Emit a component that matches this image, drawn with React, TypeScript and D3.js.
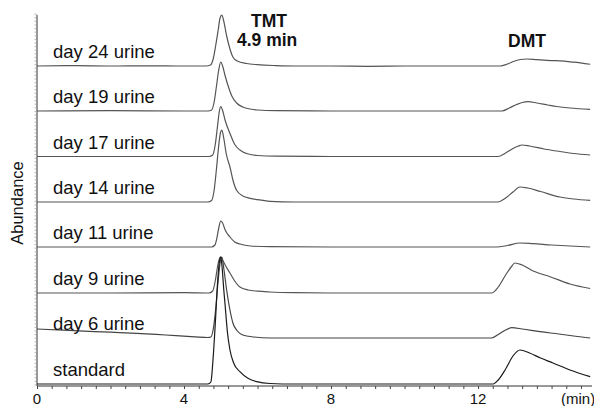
import { useEffect, useRef } from 'react';
import * as d3 from 'd3';

// chromatogram traces, top to bottom
const traceNames = ['day 24 urine', 'day 19 urine', 'day 17 urine', 'day 14 urine', 'day 11 urine', 'day 9 urine', 'day 6 urine', 'standard'];
const baselineOffsets = [319, 274, 228.5, 183, 138, 92, 47, 1];

// [time (min), abundance above baseline]
const day24Points = [[0,0],[1,0.3],[2,0],[3,0.2],[4,0],[4.6,0],[4.72,1],[4.8,8],[4.86,20],[4.93,36],[4.98,48],[5.03,51],[5.08,45],[5.16,30],[5.25,17],[5.33,9],[5.45,5],[5.7,2.5],[6.0,1.3],[6.5,0.4],[7,0],[8,0],[9,-0.3],[10,0],[11,0],[12,0],[12.6,0],[12.8,2],[13.0,5],[13.15,6.5],[13.33,7],[13.6,6.3],[14.0,5.4],[14.23,5.2],[14.6,3.8],[15.05,1.7]];
const day19Points = [[0,0],[2,0.3],[4,0],[4.65,0],[4.75,1],[4.82,9],[4.88,24],[4.94,40],[5.0,49],[5.05,45],[5.12,35],[5.21,24],[5.3,15],[5.43,8],[5.6,4],[5.8,2],[6.0,1],[6.5,0.3],[8,0],[10,0],[12,0],[12.65,0],[12.85,3],[13.05,6.5],[13.2,8.5],[13.37,9.3],[13.6,8],[13.9,6],[14.14,4.5],[14.5,3],[15.05,1.7]];
const day17Points = [[0,0],[2,0],[4,0],[4.68,0],[4.78,1.5],[4.85,12],[4.91,30],[4.96,45],[5.0,50],[5.05,46],[5.12,36],[5.25,23],[5.38,12],[5.52,6.5],[5.75,2.5],[6.0,1],[6.5,0.3],[8,0],[10,0],[12,0],[12.54,0],[12.75,3.5],[12.95,8],[13.1,10.5],[13.19,11.5],[13.4,10.5],[13.8,7.5],[14.23,5],[14.6,3],[15.05,1.5]];
const day14Points = [[0,0],[2,0],[4,0],[4.65,0],[4.75,1.5],[4.82,12],[4.88,32],[4.94,55],[4.99,69],[5.03,72],[5.08,64],[5.15,48],[5.25,35],[5.33,22],[5.43,11.7],[5.6,6],[5.8,3.7],[6.0,2.3],[6.34,0.7],[7,0],[8,0],[10,0],[12,0],[12.54,0],[12.75,4],[12.95,10],[13.14,15],[13.35,14],[13.7,10.5],[14.23,5],[14.6,3],[15.05,1.7]];
const day11Points = [[0,0],[2,0],[4,0],[4.75,0],[4.84,2],[4.9,10],[4.95,20],[5.0,26],[5.05,24],[5.12,17],[5.25,10],[5.38,5],[5.52,3],[5.8,1],[6.34,0.3],[8,0],[10,0],[12,0],[12.5,0],[12.8,1.5],[13.14,4],[13.5,3.3],[14.0,2],[14.5,1],[15.05,0]];
const day9Points = [[0,0],[2,0],[4,0.3],[4.68,0],[4.78,2],[4.85,12],[4.92,28],[4.97,35],[5.0,36],[5.05,33],[5.15,26],[5.25,20],[5.38,12],[5.52,6],[5.75,3],[6.0,1.8],[6.34,1],[7,0.3],[8,0],[10,0],[12,0],[12.37,0],[12.55,6],[12.75,18],[12.9,26],[13.0,30],[13.2,28],[13.5,22],[13.96,16.3],[14.5,9],[15.05,4.5]];
const day6Points = [[0,9],[1,7.3],[2,5.8],[2.71,4.7],[3.5,3],[4.3,1.2],[4.65,0.5],[4.73,1],[4.8,10],[4.87,32],[4.93,58],[4.99,77],[5.03,81],[5.08,70],[5.16,48],[5.25,28],[5.33,15],[5.45,7],[5.6,3],[5.9,1],[6.34,0],[8,0],[10,0],[12,0],[12.37,0],[12.55,3.5],[12.75,8],[12.92,10.3],[13.2,9],[13.69,6.3],[14.2,4],[14.6,2],[15.05,0]];
const standardPoints = [[0,0],[2,0],[4,0],[4.65,0],[4.73,2],[4.79,25],[4.85,60],[4.91,100],[4.96,122],[5.0,127],[5.04,115],[5.08,95],[5.12,78],[5.18,52],[5.25,34],[5.35,21],[5.52,12.3],[5.75,5.5],[5.98,2.3],[6.34,0.5],[7,0],[8,0],[10,0],[12,0],[12.41,0],[12.55,4],[12.75,15],[12.95,28],[13.14,34],[13.4,31],[13.7,26],[14.04,21],[14.5,14],[15.05,7.3]];

const tracePoints = [day24Points, day19Points, day17Points, day14Points, day11Points, day9Points, day6Points, standardPoints];
const traceColors = ['#555', '#555', '#555', '#555', '#555', '#555', '#444', '#1a1a1a'];

const xTickLabels = [0, 4, 8, 12];

export default function App() {
  const svgRef = useRef(null);

  useEffect(() => {
    const width = 594;
    const height = 406;
    const svg = d3.select(svgRef.current);
    svg.selectAll('*').remove();
    svg.attr('width', width).attr('height', height);

    const x = d3.scaleLinear().domain([0, 15.1]).range([37, 592]);
    const y = d3.scaleLinear().domain([0, 370]).range([385, 15]);

    // y axis with dense minor ticks
    svg.append('line')
      .attr('x1', 37).attr('x2', 37).attr('y1', 15).attr('y2', 386)
      .attr('stroke', '#333').attr('stroke-width', 1);
    svg.append('g')
      .selectAll('line')
      .data(d3.range(0, 371, 3.6))
      .enter()
      .append('line')
      .attr('x1', 34.5).attr('x2', 37)
      .attr('y1', d => y(d)).attr('y2', d => y(d))
      .attr('stroke', '#999').attr('stroke-width', 0.7);

    // x axis
    const xAxis = d3.axisBottom(x)
      .tickValues(d3.range(0, 15.1, 0.4))
      .tickSize(3)
      .tickFormat(() => '');
    const gx = svg.append('g').attr('transform', 'translate(0,386)').call(xAxis);
    gx.select('.domain').attr('stroke', '#333').attr('d', `M37,0H592`);
    gx.selectAll('.tick line').attr('stroke', '#444');

    svg.append('g')
      .selectAll('text')
      .data(xTickLabels)
      .enter()
      .append('text')
      .attr('x', d => x(d))
      .attr('y', 404)
      .attr('text-anchor', 'middle')
      .attr('font-size', '15px')
      .attr('fill', '#111')
      .text(d => d);

    svg.append('text')
      .attr('x', 561).attr('y', 404)
      .attr('font-size', '15px')
      .attr('fill', '#111')
      .text('(min)');

    svg.append('text')
      .attr('transform', 'translate(23,203) rotate(-90)')
      .attr('text-anchor', 'middle')
      .attr('font-size', '16.5px')
      .attr('fill', '#111')
      .text('Abundance');

    // traces
    const line = d3.line()
      .x(d => x(d[0]))
      .curve(d3.curveMonotoneX);

    tracePoints.forEach((pts, i) => {
      const off = baselineOffsets[i];
      svg.append('path')
        .datum(pts)
        .attr('d', line.y(d => y(d[1] + off)))
        .attr('fill', 'none')
        .attr('stroke', traceColors[i])
        .attr('stroke-width', 1.2);

      svg.append('text')
        .attr('x', 53)
        .attr('y', y(off) - 8)
        .attr('font-size', '18.5px')
        .attr('fill', '#111')
        .text(traceNames[i]);
    });

    // peak annotations
    const ann = [
      { t: 'TMT', x: 251, y: 27 },
      { t: '4.9 min', x: 237, y: 46 },
      { t: 'DMT', x: 508, y: 47 },
    ];
    svg.append('g')
      .selectAll('text')
      .data(ann)
      .enter()
      .append('text')
      .attr('x', d => d.x)
      .attr('y', d => d.y)
      .attr('font-size', '17.5px')
      .attr('font-weight', 'bold')
      .attr('fill', '#111')
      .text(d => d.t);
  }, []);

  return (
    <svg
      ref={svgRef}
      style={{ position: 'absolute', left: 0, top: 0, background: '#fff', fontFamily: '"Liberation Sans", Arial, sans-serif' }}
    />
  );
}
